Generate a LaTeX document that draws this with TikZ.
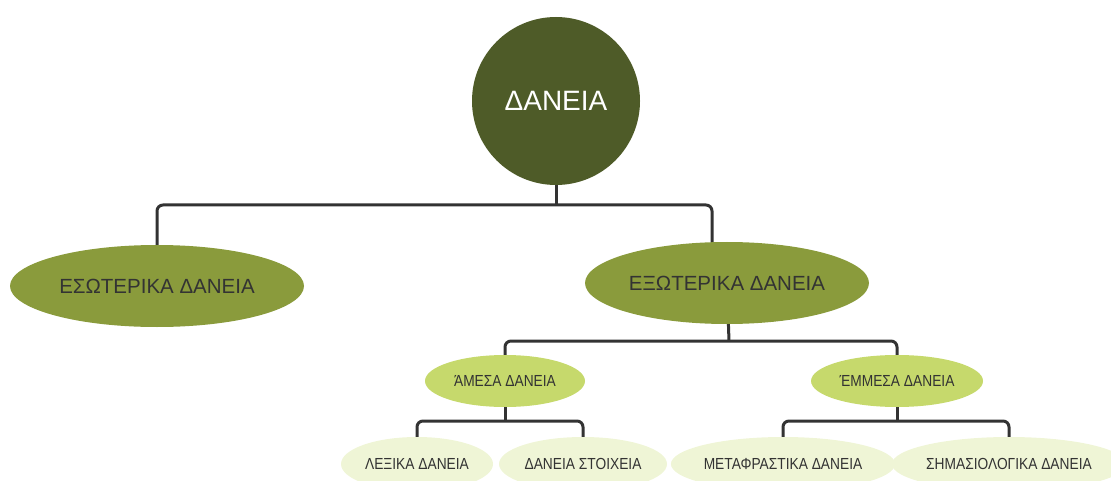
\documentclass[tikz,border=0pt]{standalone}
\usepackage{fontspec}
\setmainfont{Liberation Sans}
\newfontfamily\condfont[FakeStretch=0.86]{Liberation Sans}
\usetikzlibrary{shapes.geometric,backgrounds}
\definecolor{rootcol}{HTML}{4E5B28}
\definecolor{midcol}{HTML}{8A9B3C}
\definecolor{lightcol}{HTML}{C6D96C}
\definecolor{palecol}{HTML}{EFF5D6}
\definecolor{inkcol}{HTML}{333333}
\begin{document}
\begin{tikzpicture}[x=1pt,y=-1pt,
  rootnode/.style={circle,fill=rootcol,minimum size=168pt,inner sep=0pt,text=white,font=\fontsize{28}{32}\selectfont},
  lvlone/.style={ellipse,fill=midcol,minimum height=82pt,inner sep=0pt,text=inkcol,font=\fontsize{20.5}{24}\selectfont},
  lvltwo/.style={ellipse,fill=lightcol,minimum height=52pt,inner sep=0pt,text=inkcol,font=\condfont\fontsize{16}{19}\selectfont},
  lvlthree/.style={ellipse,fill=palecol,minimum height=54pt,inner sep=0pt,text=inkcol,font=\condfont\fontsize{16}{19}\selectfont},
  conn/.style={draw=inkcol,line width=3pt,rounded corners=6pt}]
\useasboundingbox (0,0) rectangle (1111,481);
\clip (0,0) rectangle (1111,481);

\node[rootnode] (root) at (556,101) {ΔΑΝΕΙΑ};
\node[lvlone,minimum width=294pt] (eso) at (157,286) {ΕΣΩΤΕΡΙΚΑ ΔΑΝΕΙΑ};
\node[lvlone,minimum width=284pt] (exo) at (727,283) {ΕΞΩΤΕΡΙΚΑ ΔΑΝΕΙΑ};
\node[lvltwo,minimum width=160pt] (ame) at (505,381) {ΆΜΕΣΑ ΔΑΝΕΙΑ};
\node[lvltwo,minimum width=172pt] (emm) at (897,381) {ΈΜΜΕΣΑ ΔΑΝΕΙΑ};
\node[lvlthree,minimum width=152pt] (lex) at (417,464) {ΛΕΞΙΚΑ ΔΑΝΕΙΑ};
\node[lvlthree,minimum width=168pt] (sto) at (583,464) {ΔΑΝΕΙΑ ΣΤΟΙΧΕΙΑ};
\node[lvlthree,minimum width=222pt] (met) at (783,464) {ΜΕΤΑΦΡΑΣΤΙΚΑ ΔΑΝΕΙΑ};
\node[lvlthree,minimum width=226pt] (sim) at (1009,464) {ΣΗΜΑΣΙΟΛΟΓΙΚΑ ΔΑΝΕΙΑ};

\coordinate (busa) at (556,205);
\coordinate (exoin) at (712,260);
\coordinate (busb) at (729,341);
\coordinate (busc) at (505,421);
\coordinate (busd) at (897,421);

\begin{scope}[on background layer]
  \draw[conn] (root) -- (busa);
  \draw[conn] (eso) |- (busa) -| (exoin);
  \draw[conn] (exo) -- (busb);
  \draw[conn] (ame) |- (busb) -| (emm);
  \draw[conn] (ame) -- (busc);
  \draw[conn] (lex) |- (busc) -| (sto);
  \draw[conn] (emm) -- (busd);
  \draw[conn] (met) |- (busd) -| (sim);
\end{scope}
\end{tikzpicture}
\end{document}
